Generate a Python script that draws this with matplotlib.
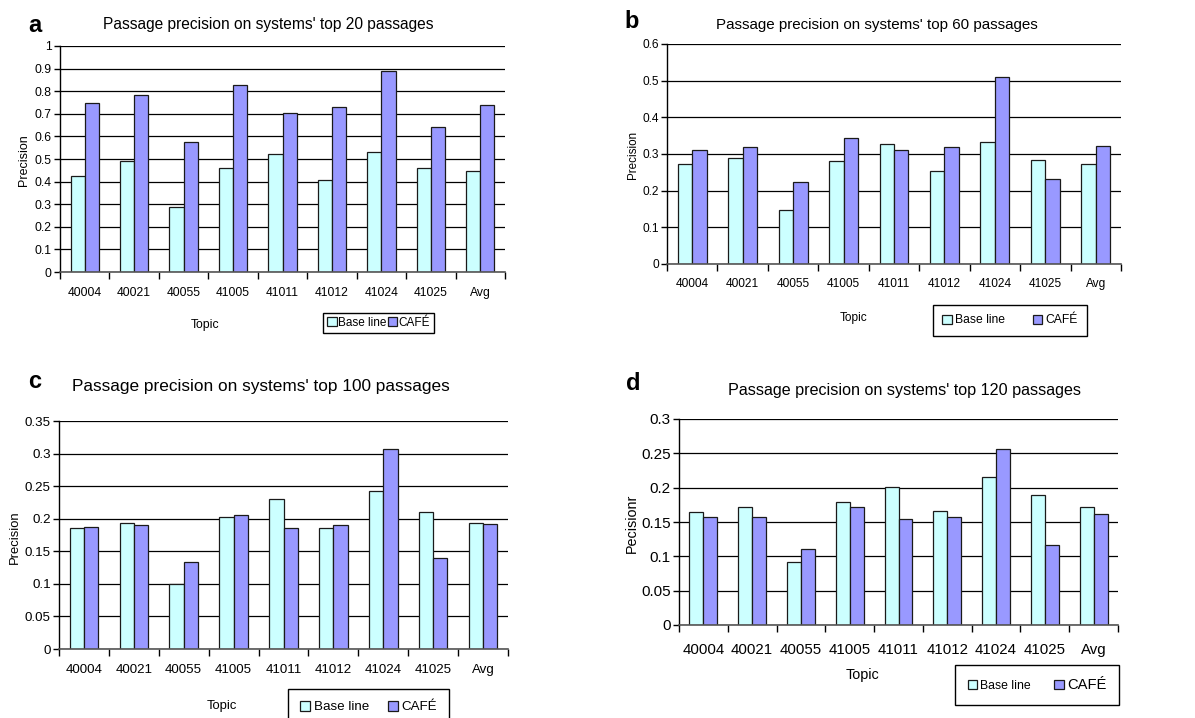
import matplotlib
matplotlib.use('Agg')
import matplotlib.pyplot as plt
from matplotlib.patches import Patch
import numpy as np

plt.rcParams['font.family'] = ['Liberation Sans', 'DejaVu Sans']

topics = ['40004', '40021', '40055', '41005', '41011', '41012', '41024', '41025', 'Avg']
series_names = ['Base line', 'CAFÉ']

base_top20 = [0.424, 0.490, 0.287, 0.461, 0.520, 0.409, 0.529, 0.461, 0.448]
cafe_top20 = [0.748, 0.785, 0.576, 0.829, 0.705, 0.730, 0.891, 0.642, 0.741]

base_top60 = [0.274, 0.290, 0.146, 0.280, 0.327, 0.253, 0.334, 0.284, 0.274]
cafe_top60 = [0.312, 0.319, 0.224, 0.344, 0.310, 0.319, 0.511, 0.231, 0.321]

base_top100 = [0.186, 0.194, 0.100, 0.203, 0.231, 0.185, 0.242, 0.211, 0.194]
cafe_top100 = [0.188, 0.191, 0.133, 0.206, 0.185, 0.191, 0.307, 0.140, 0.192]

base_top120 = [0.164, 0.172, 0.092, 0.179, 0.201, 0.166, 0.216, 0.189, 0.172]
cafe_top120 = [0.157, 0.158, 0.111, 0.172, 0.155, 0.158, 0.256, 0.117, 0.161]

W, H = 1195, 718
fig = plt.figure(figsize=(W / 100, H / 100), dpi=100)
fig.patch.set_facecolor('white')

BASE_C = '#CCFFFF'
CAFE_C = '#9999FF'
EDGE = '#1a1a1a'


def px_axes(l, t, r, b):
    return fig.add_axes([l / W, 1 - b / H, (r - l) / W, (b - t) / H])


def ftext(x, y, s, **kw):
    fig.text(x / W, 1 - y / H, s, **kw)


def draw(ax, base, cafe, ymax, ystep, xfs, yfs, xpad):
    x = np.arange(len(topics))
    w = 1 / 3.5
    ax.bar(x - w / 2, base, w, color=BASE_C, edgecolor=EDGE, lw=0.9, zorder=3)
    ax.bar(x + w / 2, cafe, w, color=CAFE_C, edgecolor=EDGE, lw=0.9, zorder=3)
    ax.set_xlim(-0.5, len(topics) - 0.5)
    ax.set_ylim(0, ymax)
    yt = np.round(np.arange(0, ymax + 1e-9, ystep), 4)
    ax.set_yticks(yt)
    ax.set_yticklabels(['%g' % v for v in yt], fontsize=yfs)
    ax.set_xticks(x)
    ax.set_xticklabels(topics, fontsize=xfs)
    ax.set_xticks(np.arange(-0.5, len(topics), 1), minor=True)
    ax.tick_params(axis='x', which='major', length=0, pad=xpad)
    ax.tick_params(axis='x', which='minor', length=5, width=1, color='black', direction='out')
    ax.tick_params(axis='y', length=4, width=1, color='black', direction='out', pad=2)
    ax.set_axisbelow(True)
    ax.yaxis.grid(True, color='black', lw=0.9)
    for s in ['top', 'right']:
        ax.spines[s].set_visible(False)
    ax.spines['left'].set_color('black')
    ax.spines['bottom'].set_color('#555555')
    ax.spines['left'].set_linewidth(1)
    ax.spines['bottom'].set_linewidth(1.2)
    ax.spines['bottom'].set_zorder(4)


def legend(ax, cx, cy, fs, fs2=None, colsp=1.5, bpad=0.5, htp=0.25):
    handles = [Patch(facecolor=BASE_C, edgecolor=EDGE, lw=0.9),
               Patch(facecolor=CAFE_C, edgecolor=EDGE, lw=0.9)]
    leg = ax.legend(handles, series_names, loc='center', ncol=2,
                    bbox_to_anchor=(cx / W, 1 - cy / H), bbox_transform=fig.transFigure,
                    fontsize=fs, frameon=True, fancybox=False, framealpha=1,
                    edgecolor='black', handlelength=0.8, handleheight=0.8,
                    handletextpad=htp, columnspacing=colsp, borderpad=bpad,
                    borderaxespad=0)
    leg.get_frame().set_linewidth(1)
    if fs2 is not None:
        leg.get_texts()[1].set_fontsize(fs2)
    return leg


# Panel a
axa = px_axes(60, 46, 505, 272)
draw(axa, base_top20, cafe_top20, 1.0, 0.1, 8.7, 8.7, 11)
ftext(35, 25, 'a', fontsize=17, fontweight='bold', ha='center', va='center')
ftext(268, 25, "Passage precision on systems' top 20 passages", fontsize=11.2, ha='center', va='center')
ftext(24, 160, 'Precision', fontsize=9, rotation=90, ha='center', va='center')
ftext(205, 325, 'Topic', fontsize=8.8, ha='center', va='center')
legend(axa, 378.5, 323, 8.5, colsp=0.1, bpad=0.35, htp=0.12)

# Panel b
axb = px_axes(667, 44, 1121, 264)
draw(axb, base_top60, cafe_top60, 0.6, 0.1, 8.6, 8.6, 10)
ftext(632, 22, 'b', fontsize=17, fontweight='bold', ha='center', va='center')
ftext(877, 25, "Passage precision on systems' top 60 passages", fontsize=10.9, ha='center', va='center')
ftext(633, 155, 'Precision', fontsize=8.4, rotation=90, ha='center', va='center')
ftext(854, 318, 'Topic', fontsize=8.6, ha='center', va='center')
legend(axb, 1010, 320.5, 8.7, colsp=2.3, bpad=0.8)

# Panel c
axc = px_axes(59, 421, 508, 649)
draw(axc, base_top100, cafe_top100, 0.35, 0.05, 9.6, 9.6, 11)
ftext(35, 382, 'c', fontsize=17, fontweight='bold', ha='center', va='center')
ftext(261, 387, "Passage precision on systems' top 100 passages", fontsize=12.4, ha='center', va='center')
ftext(15, 537, 'Precision', fontsize=9.4, rotation=90, ha='center', va='center')
ftext(222, 706, 'Topic', fontsize=9.4, ha='center', va='center')
legend(axc, 368.5, 707, 9.6, colsp=1.4, bpad=0.9)

# Panel d
axd = px_axes(679, 419, 1118, 625)
draw(axd, base_top120, cafe_top120, 0.3, 0.05, 10.8, 11, 13)
ftext(633, 383, 'd', fontsize=17, fontweight='bold', ha='center', va='center')
ftext(904, 391, "Passage precision on systems' top 120 passages", fontsize=11.6, ha='center', va='center')
ftext(632, 523, 'Pecisionr', fontsize=10.4, rotation=90, ha='center', va='center')
ftext(862, 675, 'Topic', fontsize=10.4, ha='center', va='center')
legend(axd, 1037, 685, 8.8, fs2=10.6, colsp=1.9, bpad=1.05)

fig.savefig('out.png', dpi=100)
